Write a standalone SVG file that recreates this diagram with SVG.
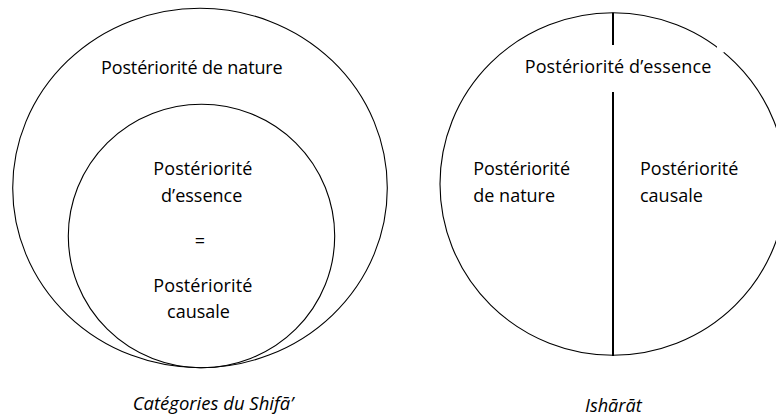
<svg xmlns="http://www.w3.org/2000/svg" width="776" height="417" viewBox="0 0 776 417">
<style>
.c{fill:none;stroke:#000;stroke-width:1.1}
.t{font-family:"Open Sans","Liberation Sans",sans-serif;font-size:18px;fill:#000}
.i{font-style:italic}
.div{stroke:#000;stroke-width:2}
</style>
<rect width="776" height="417" fill="#fff"/>
<g id="shifa-outer">
<ellipse class="c" cx="200" cy="188" rx="187.3" ry="179.7"/>
<text class="t" x="101" y="74" textLength="181.7" lengthAdjust="spacing">Postériorité de nature</text>
</g>
<g id="shifa-inner">
<ellipse class="c" cx="201.5" cy="236" rx="133.2" ry="131.7"/>
<text class="t" x="153.3" y="175" textLength="99" lengthAdjust="spacing">Postériorité</text>
<text class="t" x="201.7" y="201.7" text-anchor="middle">d’essence</text>
<text class="t" x="200" y="247" text-anchor="middle">=</text>
<text class="t" x="153.3" y="291.7" textLength="99" lengthAdjust="spacing">Postériorité</text>
<text class="t" x="198.5" y="318" text-anchor="middle">causale</text>
</g>
<g id="shifa-caption">
<text class="t i" x="132.7" y="410" textLength="160.6" lengthAdjust="spacingAndGlyphs">Catégories du Shifā’</text>
</g>
<g id="isharat-circle">
<ellipse class="c" cx="613" cy="184" rx="173" ry="171.2"/>
<rect x="717" y="44" width="7" height="8.5" fill="#fff"/>
<text class="t" x="524.7" y="73" textLength="186.6" lengthAdjust="spacing">Postériorité d’essence</text>
</g>
<g id="isharat-left">
<text class="t" x="473.3" y="175" textLength="96.7" lengthAdjust="spacing">Postériorité</text>
<text class="t" x="473.3" y="202">de nature</text>
</g>
<g id="isharat-right">
<text class="t" x="640" y="175" textLength="98.3" lengthAdjust="spacing">Postériorité</text>
<text class="t" x="640" y="202">causale</text>
</g>
<g id="isharat-caption">
<text class="t i" x="585" y="411.7" textLength="56.7" lengthAdjust="spacingAndGlyphs">Ishārāt</text>
</g>
<g id="connectors">
<line class="div" x1="613" y1="12.7" x2="613" y2="45"/>
<line class="div" x1="613" y1="92" x2="613" y2="356"/>
</g>
</svg>
